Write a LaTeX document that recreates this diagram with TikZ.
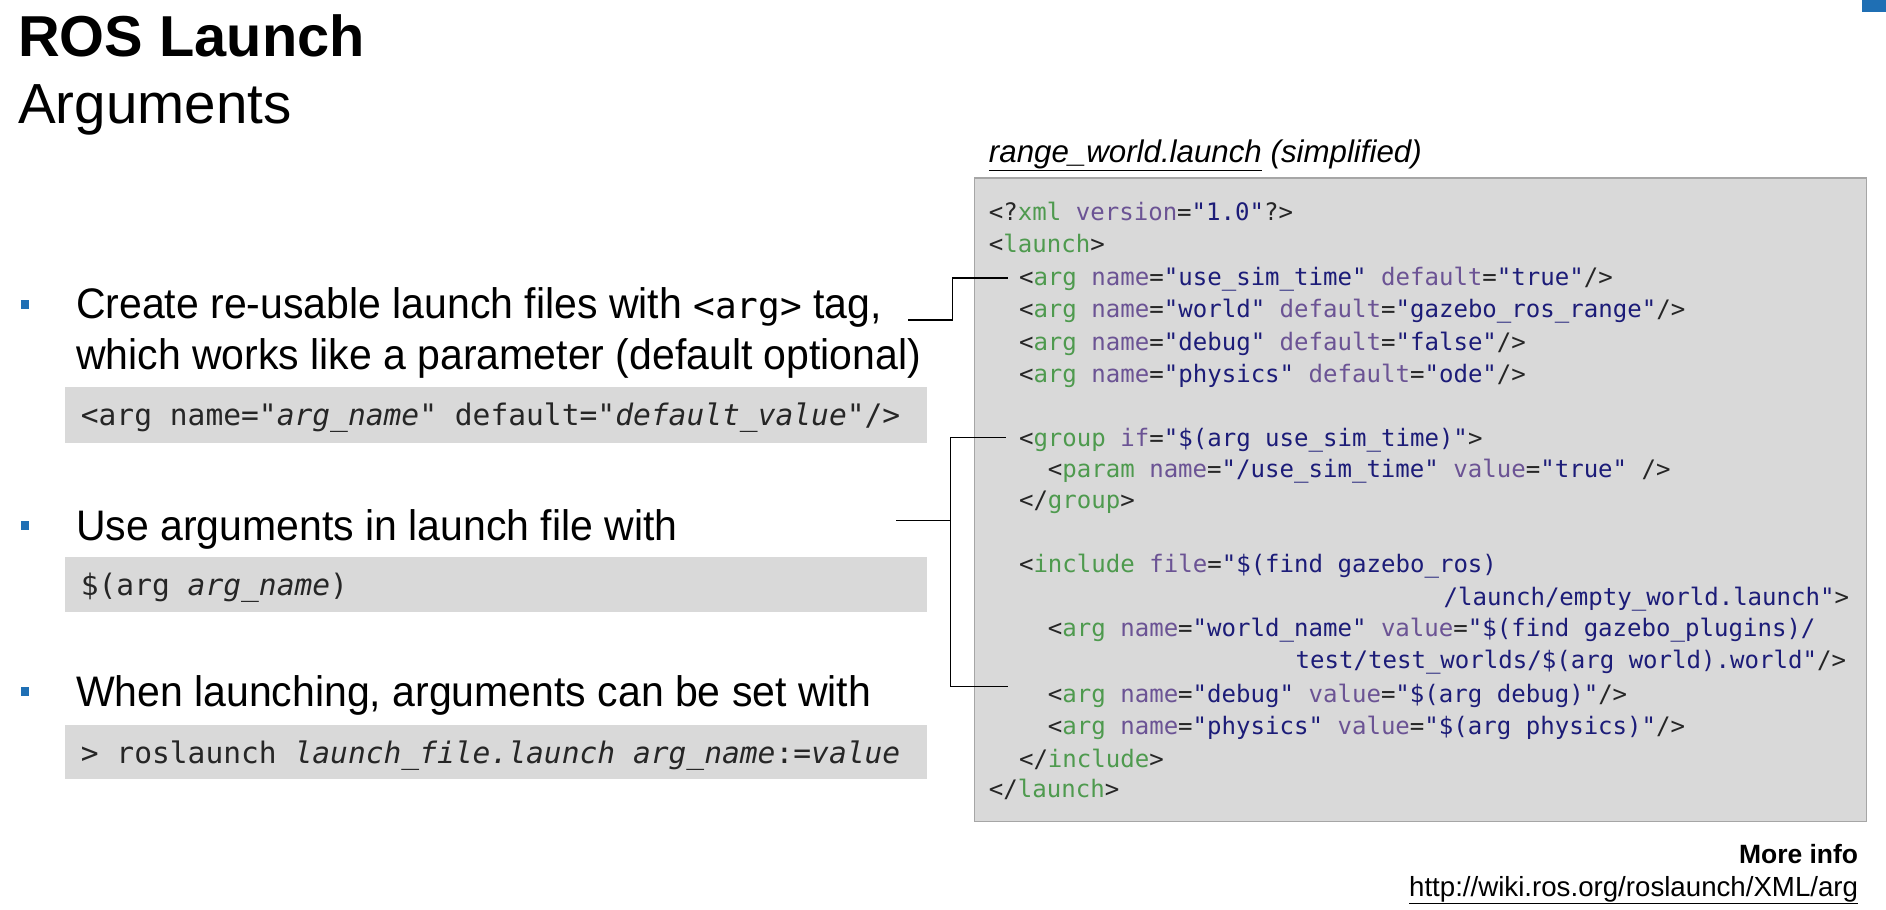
\documentclass[tikz,border=0pt]{standalone}
\usepackage{fontspec}
\setmainfont{Liberation Sans}
\newfontfamily\narrow{Liberation Sans}[FakeStretch=0.96]
\newfontfamily\code{DejaVu Sans Mono}
\definecolor{tagc}{HTML}{4E9A4E}
\definecolor{attc}{HTML}{6B5394}
\definecolor{strc}{HTML}{1C1C78}
\definecolor{boxc}{HTML}{D9D9D9}
\definecolor{bordc}{HTML}{A6A6A6}
\definecolor{bulc}{HTML}{1F6FB4}
\newcommand\tg[1]{\textcolor{tagc}{#1}}
\newcommand\at[1]{\textcolor{attc}{#1}}
\newcommand\st[1]{\textcolor{strc}{#1}}
\begin{document}
\begin{tikzpicture}[x=1pt,y=-1pt,
  cl/.style={anchor=base west,inner sep=0,font=\code\fontsize{20}{21}\selectfont,text=black!85},
  bt/.style={anchor=base west,inner sep=0,font=\narrow\fontsize{35.5}{37}\selectfont},
  lc/.style={anchor=base west,inner sep=0,font=\code\fontsize{24.6}{26}\selectfont,text=black!85},
  bul/.style={fill=bulc,draw=none,minimum size=7pt,inner sep=0},
  con/.style={draw=black,line width=1.1pt}]
\useasboundingbox (0,0) rectangle (1568,756);
\fill[bulc] (1548,0) rectangle (1568,10);
% titles
\node[anchor=base west,inner sep=0,font=\fontsize{48}{50}\selectfont\bfseries] (title) at (15,47) {ROS Launch};
\node[anchor=base west,inner sep=0,font=\fontsize{47}{50}\selectfont] (sub) at (15,103) {Arguments};
% code box
\node[anchor=base west,inner sep=0,font=\fontsize{26}{28}\selectfont\itshape] (cap) at (822,135) {\underline{range\_world.launch} (simplified)};
\draw[fill=boxc,draw=bordc,line width=1pt] (810,148) rectangle (1552,683);
\node[cl] (c1) at (822,183) {<?\tg{xml} \at{version}=\st{"1.0"}?>};
\node[cl] (c2) at (822,210) {<\tg{launch}>};
\node[cl] (c3) at (847,237) {<\tg{arg} \at{name}=\st{"use\_sim\_time"} \at{default}=\st{"true"}/>};
\node[cl] (c4) at (847,264) {<\tg{arg} \at{name}=\st{"world"} \at{default}=\st{"gazebo\_ros\_range"}/>};
\node[cl] (c5) at (847,291) {<\tg{arg} \at{name}=\st{"debug"} \at{default}=\st{"false"}/>};
\node[cl] (c6) at (847,318) {<\tg{arg} \at{name}=\st{"physics"} \at{default}=\st{"ode"}/>};
\node[cl] (c7) at (847,371) {<\tg{group} \at{if}=\st{"\$(arg use\_sim\_time)"}>};
\node[cl] (c8) at (871,397) {<\tg{param} \at{name}=\st{"/use\_sim\_time"} \at{value}=\st{"true"} />};
\node[cl] (c9) at (847,423) {</\tg{group}>};
\node[cl] (c10) at (847,476) {<\tg{include} \at{file}=\st{"\$(find gazebo\_ros)}};
\node[cl] (c11) at (1200,503) {\st{/launch/empty\_world.launch"}>};
\node[cl] (c12) at (871,529) {<\tg{arg} \at{name}=\st{"world\_name"} \at{value}=\st{"\$(find gazebo\_plugins)/}};
\node[cl] (c13) at (1077,556) {\st{test/test\_worlds/\$(arg world).world"}/>};
\node[cl] (c14) at (871,584) {<\tg{arg} \at{name}=\st{"debug"} \at{value}=\st{"\$(arg debug)"}/>};
\node[cl] (c15) at (871,611) {<\tg{arg} \at{name}=\st{"physics"} \at{value}=\st{"\$(arg physics)"}/>};
\node[cl] (c16) at (847,638) {</\tg{include}>};
\node[cl] (c17) at (822,663) {</\tg{launch}>};
% bullets
\node[bul] (b1) at (21,253) {};
\node[bul] (b2) at (21,437) {};
\node[bul] (b3) at (21,575) {};
\node[bt] (t1) at (63,265) {Create re-usable launch files with {\code\fontsize{30}{32}\selectfont<arg>} tag,};
\node[bt] (t1b) at (63,307) {which works like a parameter (default optional)};
\node[bt] (t2) at (63,449) {Use arguments in launch file with};
\node[bt] (t3) at (63,587) {When launching, arguments can be set with};
\fill[boxc] (54,322) rectangle (771,368);
\fill[boxc] (54,463) rectangle (771,509);
\fill[boxc] (54,603) rectangle (771,648);
\node[lc] (l1) at (67,354) {<arg name="\textit{arg\_name}" default="\textit{default\_value}"/>};
\node[lc] (l2) at (67,495) {\$(arg \textit{arg\_name})};
\node[lc] (l3) at (67,635) {> roslaunch \textit{launch\_file.launch arg\_name}:=\textit{value}};
% connectors
\coordinate (a0) at (755,266);
\coordinate (a1) at (792,266);
\coordinate (a2) at (792,231);
\coordinate (a3) at (838,231);
\draw[con] (a0) -- (a1) -- (a2) -- (a3);
\coordinate (d0) at (745,433);
\coordinate (d1) at (790,433);
\coordinate (dt) at (790,364);
\coordinate (dte) at (836,364);
\coordinate (db) at (790,571);
\coordinate (dbe) at (838,571);
\draw[con] (d0) -- (d1);
\draw[con] (dte) -- (dt) -- (db) -- (dbe);
% more info
\node[anchor=base east,inner sep=0,font=\fontsize{22}{23}\selectfont\bfseries] (mi) at (1545,718) {More info};
\node[anchor=base east,inner sep=0,font=\fontsize{23}{24}\selectfont] (url) at (1545,745) {\underline{http://wiki.ros.org/roslaunch/XML/arg}};
\end{tikzpicture}
\end{document}
